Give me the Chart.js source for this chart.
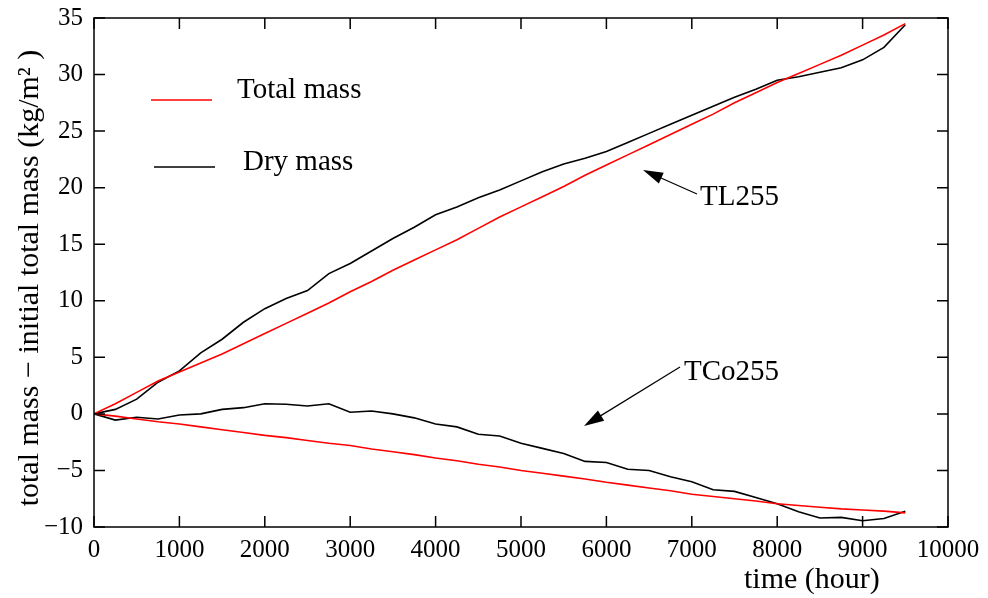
<!DOCTYPE html>
<html>
<head>
<meta charset="utf-8">
<script src="https://cdn.jsdelivr.net/npm/chart.js@4.4.1/dist/chart.umd.min.js"></script>
<style>
  html, body { margin: 0; padding: 0; background: #fff; }
  canvas { display: block; }
</style>
</head>
<body>
<canvas id="massChart" width="988" height="598"></canvas>
<script>
// time in hours, every 250 h
const hours = [0, 250, 500, 750, 1000, 1250, 1500, 1750, 2000, 2250, 2500, 2750, 3000, 3250,
  3500, 3750, 4000, 4250, 4500, 4750, 5000, 5250, 5500, 5750, 6000, 6250, 6500, 6750, 7000,
  7250, 7500, 7750, 8000, 8250, 8500, 8750, 9000, 9250, 9500];

// TL255
const tlTotal = [0, 0.9, 1.9, 2.9, 3.7, 4.5, 5.3, 6.2, 7.1, 8.0, 8.9, 9.8, 10.8, 11.7,
  12.7, 13.6, 14.5, 15.4, 16.4, 17.4, 18.3, 19.2, 20.1, 21.1, 22.0, 22.9, 23.8, 24.7, 25.6,
  26.5, 27.5, 28.4, 29.3, 30.1, 30.9, 31.7, 32.6, 33.5, 34.5];
const tlDry = [0, 0.4, 1.3, 2.8, 3.8, 5.4, 6.6, 8.1, 9.3, 10.2, 10.9, 12.4, 13.3, 14.4,
  15.5, 16.5, 17.6, 18.3, 19.1, 19.8, 20.6, 21.4, 22.1, 22.6, 23.2, 24.0, 24.8, 25.6, 26.4,
  27.2, 28.0, 28.7, 29.5, 29.8, 30.2, 30.6, 31.3, 32.4, 34.4];

// TCo255
const tcoTotal = [0, -0.2, -0.45, -0.7, -0.9, -1.15, -1.4, -1.65, -1.9, -2.1, -2.35, -2.6, -2.8, -3.1,
  -3.35, -3.6, -3.9, -4.15, -4.45, -4.7, -5.0, -5.25, -5.5, -5.75, -6.05, -6.3, -6.55, -6.8, -7.1,
  -7.3, -7.5, -7.7, -7.95, -8.1, -8.25, -8.4, -8.5, -8.6, -8.75];
const tcoDry = [0, -0.55, -0.3, -0.45, -0.1, 0.0, 0.4, 0.55, 0.9, 0.85, 0.7, 0.9, 0.15, 0.25,
  0.0, -0.35, -0.9, -1.15, -1.8, -1.95, -2.6, -3.05, -3.5, -4.2, -4.3, -4.9, -5.0, -5.55, -6.0,
  -6.7, -6.85, -7.4, -7.95, -8.65, -9.2, -9.15, -9.45, -9.25, -8.6];

const seriesNames = ['Total mass', 'Dry mass'];
const seriesColors = ['#ff0000', '#000000'];
const caseLabels = ['TL255', 'TCo255'];

const serif = '"Liberation Serif", "Times New Roman", serif';

function pts(vals) {
  return hours.map((h, i) => ({ x: h, y: vals[i] }));
}

function line(vals, color) {
  return {
    data: pts(vals),
    borderColor: color,
    borderWidth: 1.6,
    pointRadius: 0,
    tension: 0,
    fill: false
  };
}

function arrow(ctx, x0, y0, x1, y1) {
  const ang = Math.atan2(y1 - y0, x1 - x0);
  const len = 20, half = 6;
  ctx.beginPath();
  ctx.moveTo(x0, y0);
  ctx.lineTo(x1 - Math.cos(ang) * len * 0.8, y1 - Math.sin(ang) * len * 0.8);
  ctx.stroke();
  ctx.beginPath();
  ctx.moveTo(x1, y1);
  ctx.lineTo(x1 - Math.cos(ang) * len + Math.sin(ang) * half, y1 - Math.sin(ang) * len - Math.cos(ang) * half);
  ctx.lineTo(x1 - Math.cos(ang) * len - Math.sin(ang) * half, y1 - Math.sin(ang) * len + Math.cos(ang) * half);
  ctx.closePath();
  ctx.fill();
}

const decorations = {
  id: 'decorations',
  afterDraw(chart) {
    const { ctx, chartArea: a, scales: { x, y } } = chart;
    ctx.save();
    ctx.strokeStyle = '#000';
    ctx.fillStyle = '#000';
    ctx.lineWidth = 1.5;
    ctx.strokeRect(a.left, a.top, a.right - a.left, a.bottom - a.top);

    // inward ticks on all four sides
    ctx.beginPath();
    x.ticks.forEach(t => {
      const px = x.getPixelForValue(t.value);
      ctx.moveTo(px, a.bottom); ctx.lineTo(px, a.bottom - 11);
      ctx.moveTo(px, a.top); ctx.lineTo(px, a.top + 11);
    });
    y.ticks.forEach(t => {
      const py = y.getPixelForValue(t.value);
      ctx.moveTo(a.left, py); ctx.lineTo(a.left + 11, py);
      ctx.moveTo(a.right, py); ctx.lineTo(a.right - 11, py);
    });
    ctx.stroke();

    // legend
    ctx.font = '29px ' + serif;
    ctx.textBaseline = 'alphabetic';
    ctx.textAlign = 'left';
    ctx.lineWidth = 1.3;
    ctx.strokeStyle = seriesColors[0];
    ctx.beginPath(); ctx.moveTo(151, 100); ctx.lineTo(212, 100); ctx.stroke();
    ctx.fillText(seriesNames[0], 237, 98);
    ctx.strokeStyle = seriesColors[1];
    ctx.beginPath(); ctx.moveTo(154, 167); ctx.lineTo(215, 167); ctx.stroke();
    ctx.fillText(seriesNames[1], 243, 170);

    // case labels with arrows
    ctx.fillText(caseLabels[0], 700, 205);
    ctx.fillText(caseLabels[1], 684, 380);
    ctx.lineWidth = 1.2;
    ctx.strokeStyle = '#000';
    arrow(ctx, 697, 194, 643, 170);
    arrow(ctx, 680, 367, 584, 426);

    // axis titles
    ctx.font = '30px ' + serif;
    ctx.fillText('time (hour)', 744, 588);
    ctx.translate(38, 278);
    ctx.rotate(-Math.PI / 2);
    ctx.textAlign = 'center';
    ctx.fillText('total mass \u2212 initial total mass (kg/m\u00b2 )', 0, 0);
    ctx.restore();
  }
};

new Chart(document.getElementById('massChart'), {
  type: 'line',
  data: {
    datasets: [
      line(tlTotal, seriesColors[0]),
      line(tcoTotal, seriesColors[0]),
      line(tlDry, seriesColors[1]),
      line(tcoDry, seriesColors[1])
    ]
  },
  options: {
    responsive: false,
    animation: false,
    layout: { padding: { top: 17, right: 40, left: 0, bottom: 0 } },
    plugins: { legend: { display: false }, tooltip: { enabled: false } },
    scales: {
      x: {
        type: 'linear',
        min: 0,
        max: 10000,
        grid: { display: false },
        border: { display: false },
        ticks: {
          stepSize: 1000,
          padding: 0,
          maxRotation: 0,
          color: '#000',
          font: { family: serif, size: 25 },
          callback: v => String(v)
        },
        afterFit: s => { s.height = 71; }
      },
      y: {
        min: -10,
        max: 35,
        grid: { display: false },
        border: { display: false },
        ticks: {
          stepSize: 5,
          padding: 3,
          color: '#000',
          font: { family: serif, size: 25 },
          callback: v => String(v).replace('-', '\u2212')
        },
        afterFit: s => { s.width = 94; }
      }
    }
  },
  plugins: [decorations]
});
</script>
</body>
</html>
